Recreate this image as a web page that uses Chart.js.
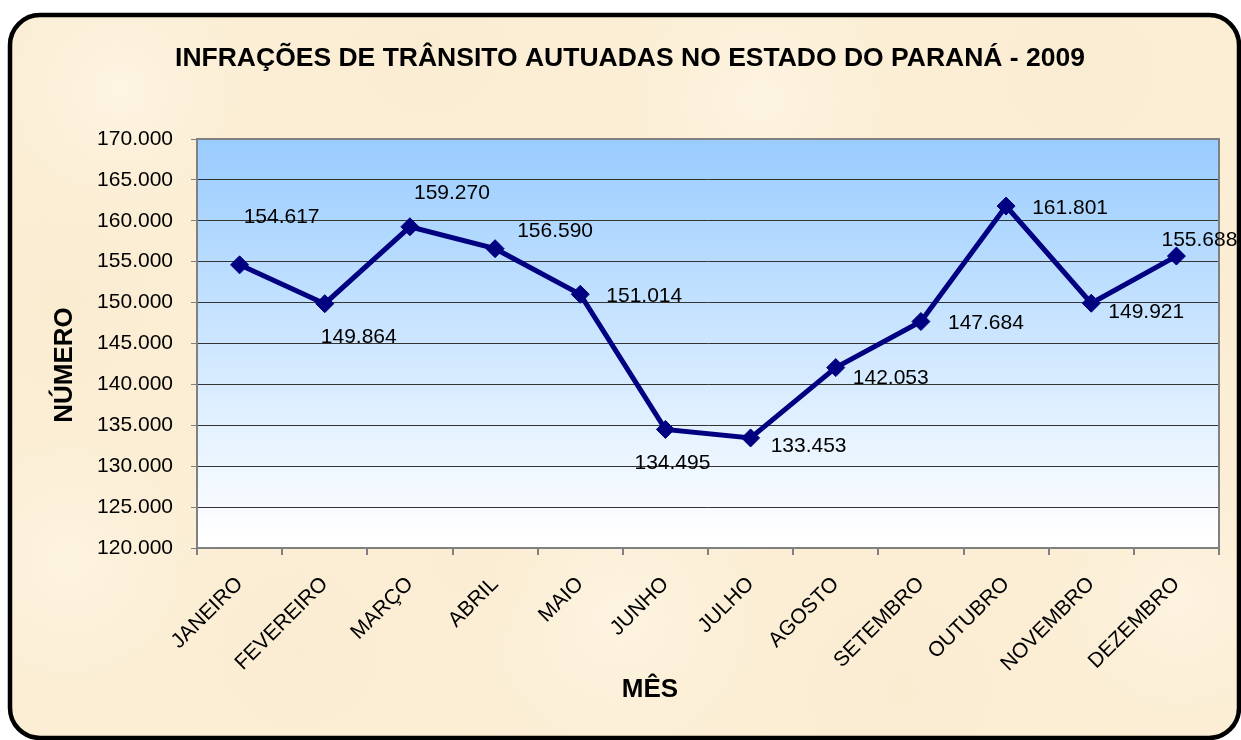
<!DOCTYPE html>
<html>
<head>
<meta charset="utf-8">
<script src="https://cdn.jsdelivr.net/npm/chart.js@4"></script>
<style>
  html, body { margin: 0; padding: 0; background: #ffffff; }
  #wrap { width: 1241px; height: 740px; position: relative; }
  canvas { display: block; }
</style>
</head>
<body>
<div id="wrap"><canvas id="c" width="1241" height="740"></canvas></div>
<script>
// ---- data ----
const categories = ['JANEIRO','FEVEREIRO','MARÇO','ABRIL','MAIO','JUNHO','JULHO','AGOSTO','SETEMBRO','OUTUBRO','NOVEMBRO','DEZEMBRO'];
const infracoes = [154617, 149864, 159270, 156590, 151014, 134495, 133453, 142053, 147684, 161801, 149921, 155688];
const yTicks = [120000, 125000, 130000, 135000, 140000, 145000, 150000, 155000, 160000, 165000, 170000];
const chartTitle = 'INFRAÇÕES DE TRÂNSITO AUTUADAS NO ESTADO DO PARANÁ - 2009';
const yTitle = 'NÚMERO';
const xTitle = 'MÊS';

// label placement (layout, pixels relative to each point)
const labelOffsets = [[42,-48],[34,33],[42,-34],[60,-17],[64,2],[7,34],[58,8],[55,11],[65,2],[64,2],[55,9],[23,-16]];

const FONT = '"Liberation Sans", Arial, Helvetica, sans-serif';

function fmt(v) {
  return String(Math.round(v)).replace(/\B(?=(\d{3})+(?!\d))/g, '.');
}

function roundRectPath(ctx, x, y, w, h, r) {
  ctx.beginPath();
  ctx.moveTo(x + r, y);
  ctx.lineTo(x + w - r, y);
  ctx.arcTo(x + w, y, x + w, y + r, r);
  ctx.lineTo(x + w, y + h - r);
  ctx.arcTo(x + w, y + h, x + w - r, y + h, r);
  ctx.lineTo(x + r, y + h);
  ctx.arcTo(x, y + h, x, y + h - r, r);
  ctx.lineTo(x, y + r);
  ctx.arcTo(x, y, x + r, y, r);
  ctx.closePath();
}

const decor = {
  id: 'decor',
  beforeDraw(chart) {
    const ctx = chart.ctx;
    const W = chart.width, H = chart.height;
    ctx.save();
    ctx.fillStyle = '#ffffff';
    ctx.fillRect(0, 0, W, H);
    // parchment panel
    roundRectPath(ctx, 10, 15, 1229, 723, 30);
    ctx.save();
    ctx.clip();
    ctx.fillStyle = '#fbeed5';
    ctx.fillRect(0, 0, W, H);
    const spots = [
      [120, 90, 160, 'rgba(255,249,236,0.6)'], [430, 40, 140, 'rgba(248,232,202,0.35)'],
      [760, 100, 180, 'rgba(255,249,236,0.55)'], [1080, 70, 150, 'rgba(248,232,202,0.3)'],
      [60, 300, 150, 'rgba(248,231,200,0.35)'], [70, 560, 170, 'rgba(255,249,234,0.55)'],
      [300, 650, 160, 'rgba(248,232,202,0.3)'], [620, 620, 190, 'rgba(255,249,236,0.55)'],
      [900, 690, 170, 'rgba(248,231,200,0.3)'], [1180, 600, 160, 'rgba(255,248,234,0.55)'],
      [1200, 300, 120, 'rgba(248,232,202,0.3)'], [480, 560, 120, 'rgba(249,234,204,0.3)']
    ];
    for (const [x, y, r, c] of spots) {
      const g = ctx.createRadialGradient(x, y, 0, x, y, r);
      g.addColorStop(0, c);
      g.addColorStop(1, 'rgba(251,238,213,0)');
      ctx.fillStyle = g;
      ctx.fillRect(x - r, y - r, 2 * r, 2 * r);
    }
    ctx.restore();
    ctx.lineWidth = 4.5;
    ctx.strokeStyle = '#000000';
    roundRectPath(ctx, 10, 15, 1229, 723, 30);
    ctx.stroke();

    // plot area gradient
    const a = chart.chartArea;
    const pg = ctx.createLinearGradient(0, a.top, 0, a.bottom);
    pg.addColorStop(0, '#99ccff');
    pg.addColorStop(0.97, '#ffffff');
    pg.addColorStop(1, '#ffffff');
    ctx.fillStyle = pg;
    ctx.fillRect(a.left, a.top, a.right - a.left, a.bottom - a.top);

    // titles
    ctx.fillStyle = '#000000';
    ctx.textAlign = 'center';
    ctx.textBaseline = 'middle';
    ctx.font = 'bold 26.5px ' + FONT;
    ctx.fillText(chartTitle, 630, 59);
    ctx.font = 'bold 26px ' + FONT;
    ctx.fillText(xTitle, 650, 690);
    ctx.save();
    ctx.translate(65, 365);
    ctx.rotate(-Math.PI / 2);
    ctx.fillText(yTitle, 0, 0);
    ctx.restore();
    ctx.restore();
  },
  beforeDatasetsDraw(chart) {
    const ctx = chart.ctx;
    const a = chart.chartArea;
    ctx.save();
    ctx.strokeStyle = '#808080';
    ctx.lineWidth = 2;
    ctx.strokeRect(a.left, a.top, a.right - a.left, a.bottom - a.top);
    ctx.restore();
  },
  afterDatasetsDraw(chart) {
    const ctx = chart.ctx;
    const meta = chart.getDatasetMeta(0);
    ctx.save();
    ctx.fillStyle = '#000000';
    ctx.font = '21px ' + FONT;
    ctx.textAlign = 'center';
    ctx.textBaseline = 'middle';
    meta.data.forEach((pt, i) => {
      const off = labelOffsets[i];
      ctx.fillText(fmt(infracoes[i]), pt.x + off[0], pt.y + off[1]);
    });
    ctx.restore();
  }
};

new Chart(document.getElementById('c'), {
  type: 'line',
  data: {
    labels: categories,
    datasets: [{
      data: infracoes,
      borderColor: '#000080',
      backgroundColor: '#000080',
      borderWidth: 5,
      pointStyle: 'rectRot',
      pointRadius: 9,
      pointHoverRadius: 9,
      pointBackgroundColor: '#000080',
      pointBorderColor: '#000080',
      pointBorderWidth: 1,
      tension: 0,
      fill: false
    }]
  },
  options: {
    responsive: false,
    animation: false,
    devicePixelRatio: 1,
    events: [],
    layout: { padding: { left: 0, right: 22, top: 139, bottom: 0 } },
    plugins: {
      legend: { display: false },
      title: { display: false },
      tooltip: { enabled: false }
    },
    scales: {
      x: {
        type: 'category',
        offset: true,
        afterFit(scale) { scale.height = 192; },
        grid: {
          offset: true,
          drawOnChartArea: false,
          drawTicks: true,
          tickLength: 7,
          color: '#808080',
          lineWidth: 2
        },
        border: { display: true, color: '#808080', width: 2 },
        ticks: {
          autoSkip: false,
          minRotation: 45,
          maxRotation: 45,
          padding: 17,
          color: '#000000',
          font: { family: FONT, size: 21 }
        }
      },
      y: {
        min: 120000,
        max: 170000,
        afterFit(scale) { scale.width = 197; },
        afterBuildTicks(scale) { scale.ticks = yTicks.map(v => ({ value: v })); },
        grid: {
          drawTicks: true,
          tickLength: 6,
          color: (c) => (c.tick && (c.tick.value === 120000 || c.tick.value === 170000)) ? '#808080' : '#333333',
          tickColor: '#808080',
          lineWidth: 1
        },
        border: { display: true, color: '#808080', width: 2 },
        ticks: {
          padding: 18,
          color: '#000000',
          font: { family: FONT, size: 21 },
          callback: (v) => fmt(v)
        }
      }
    }
  },
  plugins: [decor]
});
</script>
</body>
</html>
